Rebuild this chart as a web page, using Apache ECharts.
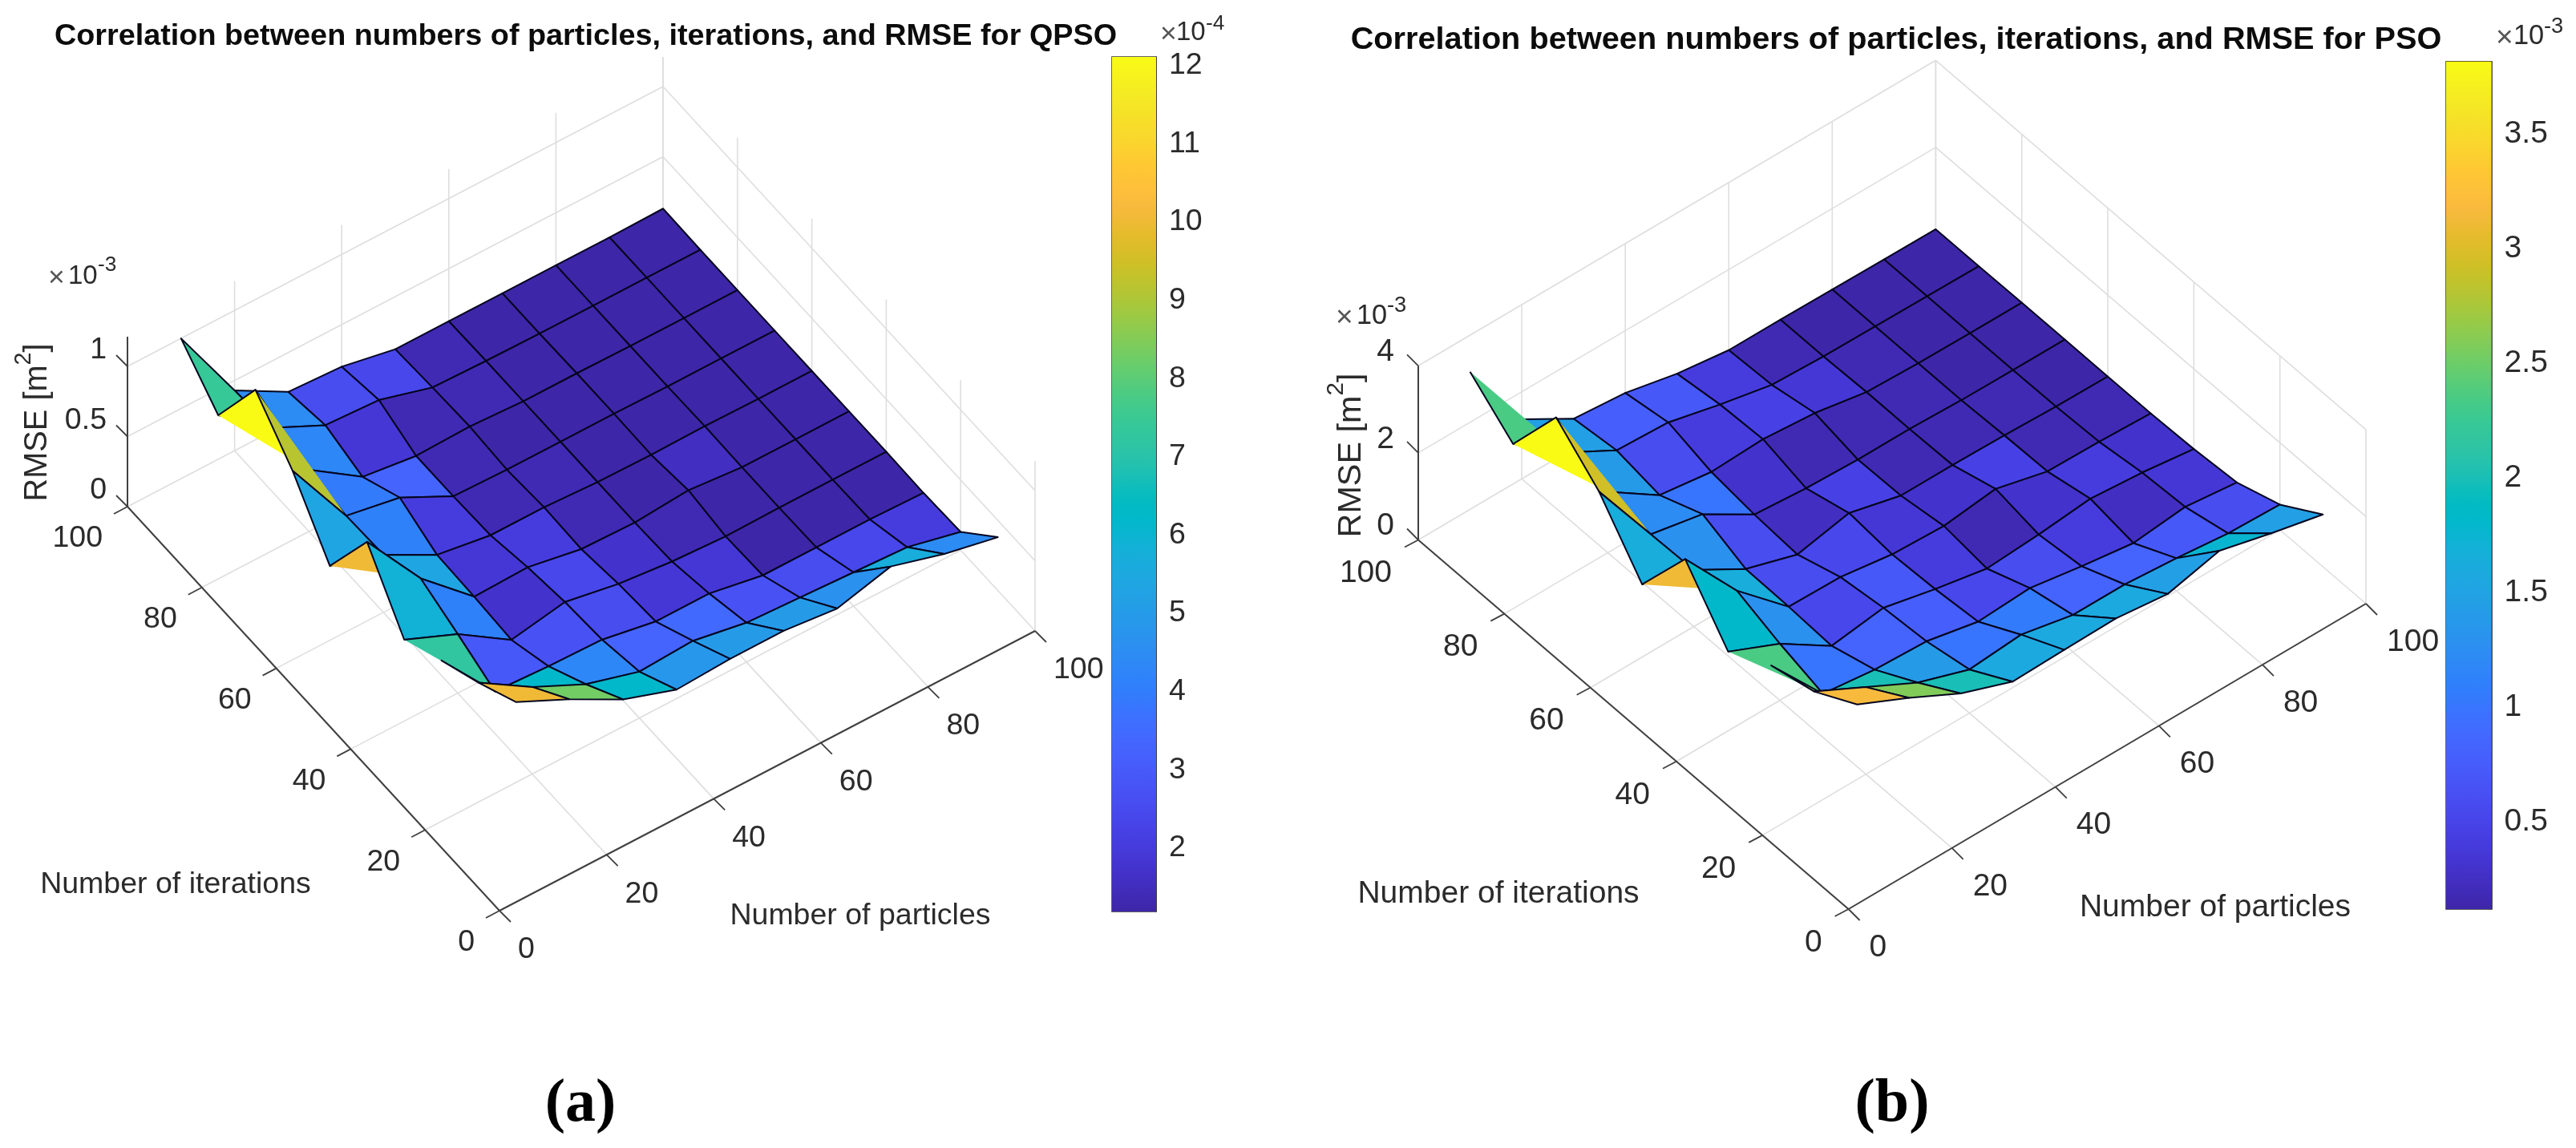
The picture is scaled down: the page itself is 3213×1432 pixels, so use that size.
<!DOCTYPE html>
<html>
<head>
<meta charset="utf-8">
<title>RMSE surfaces</title>
<script src="https://cdn.jsdelivr.net/npm/echarts@6/dist/echarts.min.js"></script>
<style>
html,body{margin:0;padding:0;background:#fff}
#main{width:3213px;height:1432px}
</style>
</head>
<body>
<div id="main"></div>
<script>
var particles = [10,20,30,40,50,60,70,80,90,100];
var iterations = [10,20,30,40,50,60,70,80,90,100];
var floorTicks = [0,20,40,60,80,100];

// rows = iterations 10..100, columns = particles 10..100, unit 1e-4
var rmseQpso = [
    [10.0,8.2,6.2,4.9,5.1,5.1,4.7,5.7,4.6,3.8],
    [8.5,6.2,4.4,3.3,3.5,2.8,2.6,2.4,2.2,1.3],
    [7.2,3.0,2.8,2.7,2.0,2.0,1.3,1.3,1.3,1.2],
    [5.8,4.2,1.8,2.5,1.8,1.4,1.2,1.25,1.25,1.25],
    [9.9,5.3,2.0,2.1,1.4,1.3,1.6,1.25,1.25,1.25],
    [5.3,4.1,2.1,1.5,1.5,1.3,1.25,1.3,1.25,1.25],
    [9.2,4.0,3.3,1.4,1.3,1.3,1.3,1.25,1.25,1.25],
    [12.1,4.4,1.9,1.4,1.5,1.3,1.3,1.25,1.25,1.25],
    [7.4,4.5,2.7,2.5,1.4,1.3,1.25,1.25,1.25,1.25],
    [10.0,4.3,2.2,2.0,1.25,1.25,1.25,1.25,1.25,1.3]
];
// same layout, unit 1e-3
var rmsePso = [
    [3.15,2.6,2.0,1.57,1.6,1.62,1.48,1.77,1.47,1.2],
    [2.6,2.0,1.4,1.0,1.1,0.85,0.85,0.75,0.62,0.58],
    [2.35,1.0,0.85,0.8,0.55,0.62,0.42,0.25,0.38,0.24],
    [1.82,1.3,0.55,0.72,0.45,0.22,0.3,0.42,0.32,0.16],
    [3.1,1.67,0.6,0.58,0.4,0.35,0.5,0.2,0.18,0.13],
    [1.67,1.3,0.62,0.25,0.5,0.2,0.2,0.18,0.14,0.13],
    [2.95,1.27,1.03,0.32,0.22,0.18,0.18,0.14,0.13,0.13],
    [3.81,1.4,0.62,0.45,0.5,0.4,0.18,0.14,0.13,0.13],
    [2.35,1.45,0.8,0.74,0.45,0.2,0.15,0.14,0.13,0.12],
    [3.16,1.37,0.68,0.57,0.31,0.15,0.15,0.14,0.13,0.12]
];

var qpsoZTicks = [0,0.5,1];
var psoZTicks = [0,2,4];
var qpsoBarTicks = [2,3,4,5,6,7,8,9,10,11,12];
var psoBarTicks = [0.5,1,1.5,2,2.5,3,3.5];

var parula = [
[0.2422,0.1504,0.6603],[0.2504,0.1650,0.7076],[0.2578,0.1818,0.7511],[0.2647,0.1978,0.7952],
[0.2706,0.2147,0.8364],[0.2751,0.2342,0.8710],[0.2783,0.2559,0.8991],[0.2803,0.2782,0.9221],
[0.2813,0.3006,0.9414],[0.2810,0.3228,0.9579],[0.2795,0.3447,0.9717],[0.2760,0.3667,0.9829],
[0.2699,0.3892,0.9906],[0.2602,0.4123,0.9952],[0.2440,0.4358,0.9988],[0.2206,0.4603,0.9973],
[0.1963,0.4847,0.9892],[0.1834,0.5074,0.9798],[0.1786,0.5289,0.9682],[0.1764,0.5499,0.9520],
[0.1687,0.5703,0.9359],[0.1540,0.5902,0.9218],[0.1460,0.6091,0.9079],[0.1380,0.6276,0.8973],
[0.1248,0.6459,0.8883],[0.1113,0.6635,0.8763],[0.0952,0.6798,0.8598],[0.0689,0.6948,0.8394],
[0.0297,0.7082,0.8163],[0.0036,0.7203,0.7917],[0.0067,0.7312,0.7660],[0.0433,0.7411,0.7394],
[0.0964,0.7500,0.7120],[0.1408,0.7584,0.6842],[0.1717,0.7670,0.6554],[0.1938,0.7758,0.6251],
[0.2161,0.7843,0.5923],[0.2470,0.7918,0.5567],[0.2906,0.7973,0.5188],[0.3406,0.8008,0.4789],
[0.3909,0.8029,0.4354],[0.4456,0.8024,0.3909],[0.5044,0.7993,0.3480],[0.5616,0.7942,0.3045],
[0.6174,0.7876,0.2612],[0.6720,0.7793,0.2227],[0.7242,0.7698,0.1910],[0.7738,0.7598,0.1646],
[0.8203,0.7498,0.1535],[0.8634,0.7406,0.1596],[0.9035,0.7330,0.1774],[0.9393,0.7288,0.2100],
[0.9728,0.7298,0.2394],[0.9956,0.7434,0.2371],[0.9970,0.7659,0.2199],[0.9952,0.7861,0.1990],
[0.9892,0.8134,0.1885],[0.9786,0.8422,0.1764],[0.9676,0.8666,0.1650],[0.9610,0.8907,0.1535],
[0.9597,0.9135,0.1423],[0.9628,0.9373,0.1265],[0.9691,0.9606,0.1064],[0.9769,0.9839,0.0805]
];

function rgb(c){
    return 'rgb('+Math.round(c[0]*255)+','+Math.round(c[1]*255)+','+Math.round(c[2]*255)+')';
}
function colorOf(v,min,max){
    var k = Math.floor((v-min)/(max-min)*64);
    k = Math.max(0,Math.min(63,k));
    return rgb(parula[k]);
}

var FONT = '"Liberation Sans", Arial, sans-serif';
var TEXT = '#2b2b2b';
var EDGE = '#05051e';

// view of each panel: where the 3d box lands on the page
var panels = [{
    title:'Correlation between numbers of particles, iterations, and RMSE for QPSO',
    titleX:725.5, titleY:40, titleSize:37.8,
    origin:[623,1136], pEnd:[1291,787], iEnd:[159,632],
    zPx:175, zTop:1.211, zDiv:10, zTicks:qpsoZTicks, values:rmseQpso,
    barMin:1.19, barMax:12.11, barTicks:qpsoBarTicks,
    bar:{left:1387,top:71,width:55,height:1066},
    fs:37.5, pLabel:[23,49], iLabel:[-31,40], zLabel:[-26,-20],
    zExp:[60,85,122,345,331,'-3'], rmse:[41,527],
    pName:[1073,1143], iName:[219,1104],
    barExp:[1447,1467,1504,41,30,'-4'], tag:'(a)', tagX:724
},{
    title:'Correlation between numbers of particles, iterations, and RMSE for PSO',
    titleX:2360, titleY:45, titleSize:39.7,
    origin:[2305.6,1134], pEnd:[2951,753], iEnd:[1769,673.5],
    zPx:54.3, zTop:4, zDiv:1, zTicks:psoZTicks, values:rmsePso,
    barMin:0.119, barMax:3.818, barTicks:psoBarTicks,
    bar:{left:3051,top:76.7,width:56.6,height:1057.3},
    fs:39, pLabel:[26,48], iLabel:[-33,42], zLabel:[-30,-17],
    zExp:[1666,1692,1730,395,381,'-3'], rmse:[1679,568],
    pName:[2763,1132], iName:[1869,1115],
    barExp:[3113,3135,3173,46,33,'-3'], tag:'(b)', tagX:2360
}];

function project(pn,p,i,z){
    var o = pn.origin;
    return [
        o[0]+(pn.pEnd[0]-o[0])*p/100+(pn.iEnd[0]-o[0])*i/100,
        o[1]+(pn.pEnd[1]-o[1])*p/100+(pn.iEnd[1]-o[1])*i/100-z*pn.zPx
    ];
}

function gridSegments(pn){
    var s = [];
    floorTicks.forEach(function(t){
        s.push([t,0,0,t,100,0]);
        s.push([0,t,0,100,t,0]);
        if(t>0) s.push([t,100,0,t,100,pn.zTop]);
        s.push([100,t,0,100,t,pn.zTop]);
    });
    pn.zTicks.forEach(function(z){
        if(z==0) return;
        s.push([0,100,z,100,100,z]);
        s.push([100,100,z,100,0,z]);
    });
    return s;
}

function axisSegments(pn){
    return [[0,0,0,100,0,0],[0,0,0,0,100,0],[0,100,0,0,100,pn.zTop]];
}

function segmentSeries(pn,segs,color,width,z){
    return {
        type:'custom', coordinateSystem:'none', silent:true, z:z, animation:false,
        data:segs,
        renderItem:function(params,api){
            var d = segs[params.dataIndex];
            var a = project(pn,d[0],d[1],d[2]), b = project(pn,d[3],d[4],d[5]);
            return {type:'line',shape:{x1:a[0],y1:a[1],x2:b[0],y2:b[1]},style:{stroke:color,lineWidth:width}};
        }
    };
}

// short tick stubs, they point away from the box like in the source figure
function tickSeries(pn){
    var segs = [];
    floorTicks.forEach(function(t){
        segs.push({from:[t,0,0],dx:14,dy:14});
        segs.push({from:[0,t,0],dx:-17,dy:9});
    });
    pn.zTicks.forEach(function(z){
        segs.push({from:[0,100,z],dx:-14,dy:-14});
    });
    return {
        type:'custom', coordinateSystem:'none', silent:true, z:3, animation:false,
        data:segs.map(function(s,k){return k;}),
        renderItem:function(params){
            var s = segs[params.dataIndex];
            var a = project(pn,s.from[0],s.from[1],s.from[2]);
            return {type:'line',shape:{x1:a[0],y1:a[1],x2:a[0]+s.dx,y2:a[1]+s.dy},style:{stroke:'#404040',lineWidth:1.8}};
        }
    };
}

function turn(a,b,c){
    return (b[0]-a[0])*(c[1]-a[1])-(b[1]-a[1])*(c[0]-a[0]);
}

// a dented cell fills as the triangle over its dent, with no outline on the cut side,
// the spikes of the source figure look like that
function reflexCorner(pts){
    var pos = [], neg = [];
    for(var k=0;k<4;k++){
        var t = turn(pts[(k+3)%4],pts[k],pts[(k+1)%4]);
        (t>0?pos:neg).push(k);
    }
    if(pos.length==1) return pos[0];
    if(neg.length==1) return neg[0];
    return -1;
}

function surfaceSeries(pn){
    var cells = [];
    for(var b=0;b<iterations.length-1;b++){
        for(var a=0;a<particles.length-1;a++){
            cells.push([a,b]);
        }
    }
    // back to front, so nearer cells paint over further ones
    var dp = pn.origin[1]-pn.pEnd[1], di = pn.origin[1]-pn.iEnd[1];
    cells.sort(function(m,n){
        return (dp*n[0]+di*n[1])-(dp*m[0]+di*m[1]);
    });
    function node(a,b){
        return project(pn,particles[a],iterations[b],pn.values[b][a]/pn.zDiv);
    }
    return {
        type:'custom', coordinateSystem:'none', silent:true, z:2, animation:false,
        data:cells,
        renderItem:function(params){
            var c = cells[params.dataIndex], a = c[0], b = c[1];
            var pts = [node(a,b),node(a+1,b),node(a+1,b+1),node(a,b+1)];
            var fill = colorOf(pn.values[b][a],pn.barMin,pn.barMax);
            var r = reflexCorner(pts);
            if(r<0){
                return {
                    type:'polygon',shape:{points:pts},
                    style:{fill:fill,stroke:EDGE,lineWidth:2,lineJoin:'round'}
                };
            }
            var rest = [pts[(r+1)%4],pts[(r+2)%4],pts[(r+3)%4]];
            return {
                type:'group',
                children:[
                    {type:'polygon',shape:{points:rest},style:{fill:fill,stroke:null}},
                    {type:'polyline',shape:{points:rest},style:{fill:null,stroke:EDGE,lineWidth:2,lineJoin:'round'}}
                ]
            };
        }
    };
}

function label(text,x,y,size,align,color){
    return {
        type:'text', x:x, y:y, z:10, silent:true,
        style:{text:text,font:size+'px '+FONT,fill:color||TEXT,align:align||'center',verticalAlign:'middle'}
    };
}

function exponent(list,e,size){
    list.push(label('×',e[0],e[3]+2,size*0.95,'left','#555'));
    list.push(label('10',e[1],e[3],size*0.88,'left'));
    list.push(label(e[5],e[2],e[4],size*0.7,'left'));
}

var series = [], grids = [], xAxes = [], yAxes = [], titles = [], graphics = [];

panels.forEach(function(pn,idx){
    series.push(segmentSeries(pn,gridSegments(pn),'#dedede',1.6,1));
    series.push(surfaceSeries(pn));
    series.push(segmentSeries(pn,axisSegments(pn),'#404040',2,3));
    series.push(tickSeries(pn));

    // colorbar uses a real value axis
    grids.push({left:pn.bar.left,top:pn.bar.top,width:pn.bar.width,height:pn.bar.height,show:true,borderColor:'#333',borderWidth:1.5});
    xAxes.push({gridIndex:idx,type:'category',data:['c'],axisLine:{show:false},axisTick:{show:false},axisLabel:{show:false}});
    yAxes.push({
        gridIndex:idx,type:'value',position:'right',min:pn.barMin,max:pn.barMax,
        splitLine:{show:false},
        axisLine:{show:true,lineStyle:{color:'#333',width:1.5}},
        axisTick:{show:true,inside:true,length:10,customValues:pn.barTicks,lineStyle:{color:'#333',width:1.5}},
        axisLabel:{show:true,margin:16,customValues:pn.barTicks,color:TEXT,fontFamily:FONT,fontSize:pn.fs}
    });
    var stops = parula.map(function(c,k){return {offset:1-k/63,color:rgb(c)};}).reverse();
    series.push({
        type:'bar',xAxisIndex:idx,yAxisIndex:idx,barWidth:'100%',silent:true,animation:false,z:1,
        data:[pn.barMax],
        itemStyle:{color:new echarts.graphic.LinearGradient(0,0,0,1,stops)}
    });

    titles.push({
        text:pn.title,left:pn.titleX,top:pn.titleY-pn.titleSize/2,textAlign:'center',
        textStyle:{fontFamily:FONT,fontWeight:'bold',fontSize:pn.titleSize,color:'#0c0c0c'}
    });

    floorTicks.forEach(function(t){
        var a = project(pn,t,0,0);
        graphics.push(label(String(t),a[0]+pn.pLabel[0],a[1]+pn.pLabel[1],pn.fs,'left'));
        var b = project(pn,0,t,0);
        graphics.push(label(String(t),b[0]+pn.iLabel[0],b[1]+pn.iLabel[1],pn.fs,'right'));
    });
    pn.zTicks.forEach(function(z){
        var a = project(pn,0,100,z);
        graphics.push(label(String(z),a[0]+pn.zLabel[0],a[1]+pn.zLabel[1],pn.fs,'right'));
    });

    exponent(graphics,pn.zExp,pn.fs);
    exponent(graphics,pn.barExp,pn.fs);

    graphics.push(label('Number of particles',pn.pName[0],pn.pName[1],pn.fs,'center'));
    graphics.push(label('Number of iterations',pn.iName[0],pn.iName[1],pn.fs,'center'));

    var rs = pn.fs*1.06;
    graphics.push({
        type:'text',x:pn.rmse[0],y:pn.rmse[1],rotation:Math.PI/2,z:10,silent:true,
        style:{
            text:'{a|RMSE [m}{b|2}{a|]}',align:'center',verticalAlign:'middle',
            rich:{
                a:{font:rs+'px '+FONT,fill:TEXT,lineHeight:rs*1.3,verticalAlign:'bottom'},
                b:{font:(rs*0.72)+'px '+FONT,fill:TEXT,lineHeight:rs*1.3,verticalAlign:'top'}
            }
        }
    });

    graphics.push({
        type:'text',x:pn.tagX,y:1378,z:10,silent:true,
        style:{text:pn.tag,font:'bold 76px "Liberation Serif", serif',fill:'#000',align:'center',verticalAlign:'middle'}
    });
});

var myChart = echarts.init(document.getElementById('main'));
myChart.setOption({
    backgroundColor:'#fff',
    animation:false,
    title:titles,
    grid:grids,
    xAxis:xAxes,
    yAxis:yAxes,
    graphic:{elements:graphics},
    series:series
});
</script>
</body>
</html>
